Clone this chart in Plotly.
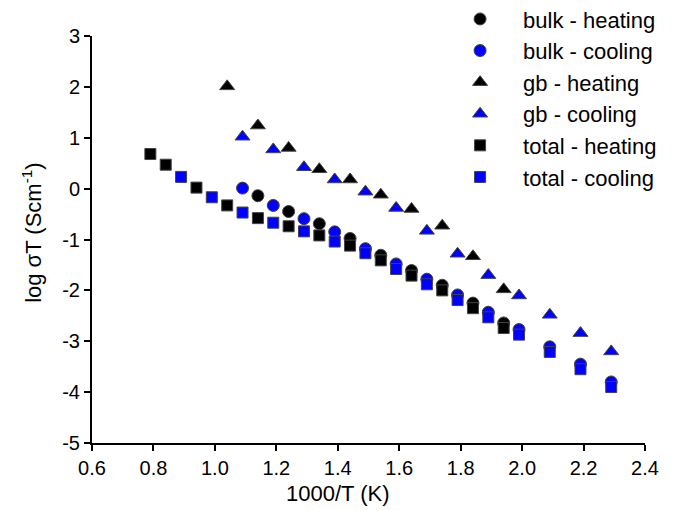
import plotly.graph_objects as go

# Data (x = 1000/T in K^-1, y = log sigma T)
bulk_heat_x = [1.14, 1.24, 1.34, 1.44, 1.54, 1.64, 1.74, 1.84, 1.94]
bulk_heat_y = [-0.14, -0.45, -0.69, -0.98, -1.31, -1.61, -1.90, -2.25, -2.64]

bulk_cool_x = [1.09, 1.19, 1.29, 1.39, 1.49, 1.59, 1.69, 1.79, 1.89, 1.99, 2.09, 2.19, 2.29]
bulk_cool_y = [0.01, -0.33, -0.59, -0.85, -1.18, -1.48, -1.78, -2.09, -2.43, -2.77, -3.11, -3.45, -3.80]

gb_heat_x = [1.04, 1.14, 1.24, 1.34, 1.44, 1.54, 1.64, 1.74, 1.84, 1.94]
gb_heat_y = [2.01, 1.24, 0.80, 0.38, 0.18, -0.12, -0.40, -0.73, -1.33, -1.98]

gb_cool_x = [1.09, 1.19, 1.29, 1.39, 1.49, 1.59, 1.69, 1.79, 1.89, 1.99, 2.09, 2.19, 2.29]
gb_cool_y = [1.02, 0.77, 0.42, 0.18, -0.06, -0.38, -0.83, -1.28, -1.70, -2.10, -2.48, -2.84, -3.20]

total_heat_x = [0.79, 0.84, 0.94, 1.04, 1.14, 1.24, 1.34, 1.44, 1.54, 1.64, 1.74, 1.84, 1.94]
total_heat_y = [0.68, 0.47, 0.02, -0.33, -0.58, -0.74, -0.92, -1.12, -1.41, -1.71, -2.00, -2.35, -2.74]

total_cool_x = [0.89, 0.99, 1.09, 1.19, 1.29, 1.39, 1.49, 1.59, 1.69, 1.79, 1.89, 1.99, 2.09, 2.19, 2.29]
total_cool_y = [0.23, -0.17, -0.47, -0.67, -0.84, -1.04, -1.27, -1.58, -1.88, -2.19, -2.53, -2.87, -3.21, -3.55, -3.90]

x_ticks = [0.6, 0.8, 1.0, 1.2, 1.4, 1.6, 1.8, 2.0, 2.2, 2.4]
x_ticklabels = ["0.6", "0.8", "1.0", "1.2", "1.4", "1.6", "1.8", "2.0", "2.2", "2.4"]
y_ticks = [-5, -4, -3, -2, -1, 0, 1, 2, 3]
y_ticklabels = ["-5", "-4", "-3", "-2", "-1", "0", "1", "2", "3"]

x_title = "1000/T (K)"
y_title = "log σT (Scm<sup>-1</sup>)"

series = [
    ("bulk - heating", bulk_heat_x, bulk_heat_y, "circle", "black"),
    ("bulk - cooling", bulk_cool_x, bulk_cool_y, "circle", "#0000ff"),
    ("gb - heating", gb_heat_x, gb_heat_y, "triangle-up", "black"),
    ("gb - cooling", gb_cool_x, gb_cool_y, "triangle-up", "#0000ff"),
    ("total - heating", total_heat_x, total_heat_y, "square", "black"),
    ("total - cooling", total_cool_x, total_cool_y, "square", "#0000ff"),
]
sizes = {"circle": 12, "triangle-up": 13, "square": 11}

FONT = "Liberation Sans, Arial, sans-serif"

fig = go.Figure()
for name, xs, ys, sym, col in series:
    fig.add_trace(go.Scatter(
        x=xs, y=ys, mode="markers", name=name,
        marker=dict(symbol=sym, size=sizes[sym], color=col,
                    line=dict(color="#444444", width=1)),
    ))

axis_common = dict(
    showline=True, linecolor="black", linewidth=2,
    ticks="outside", tickcolor="black", tickwidth=2, ticklen=6,
    showgrid=False, zeroline=False, mirror=False, automargin=False,
    tickfont=dict(family=FONT, size=20, color="black"),
)

fig.update_layout(
    width=686, height=510,
    margin=dict(l=92, r=41, t=36, b=67, autoexpand=False),
    paper_bgcolor="white", plot_bgcolor="white",
    font=dict(family=FONT, color="black"),
    xaxis=dict(range=[0.6, 2.4], tickvals=x_ticks, ticktext=x_ticklabels, **axis_common),
    yaxis=dict(range=[-5, 3], tickvals=y_ticks, ticktext=y_ticklabels, **axis_common),
    legend=dict(xref="paper", yref="paper", x=0.624, y=1.093,
                xanchor="left", yanchor="top", itemwidth=76,
                font=dict(family=FONT, size=22, color="black"),
                bgcolor="rgba(0,0,0,0)", borderwidth=0),
    annotations=[
        dict(text=x_title, xref="x", yref="paper", x=1.4, y=-0.125,
             xanchor="center", yanchor="middle", showarrow=False,
             font=dict(family=FONT, size=22, color="black")),
        dict(text=y_title, xref="paper", yref="y", x=-0.1085, y=-0.85,
             xanchor="center", yanchor="middle", textangle=-90, showarrow=False,
             font=dict(family=FONT, size=22, color="black")),
    ],
)

fig.write_html("out.html")
